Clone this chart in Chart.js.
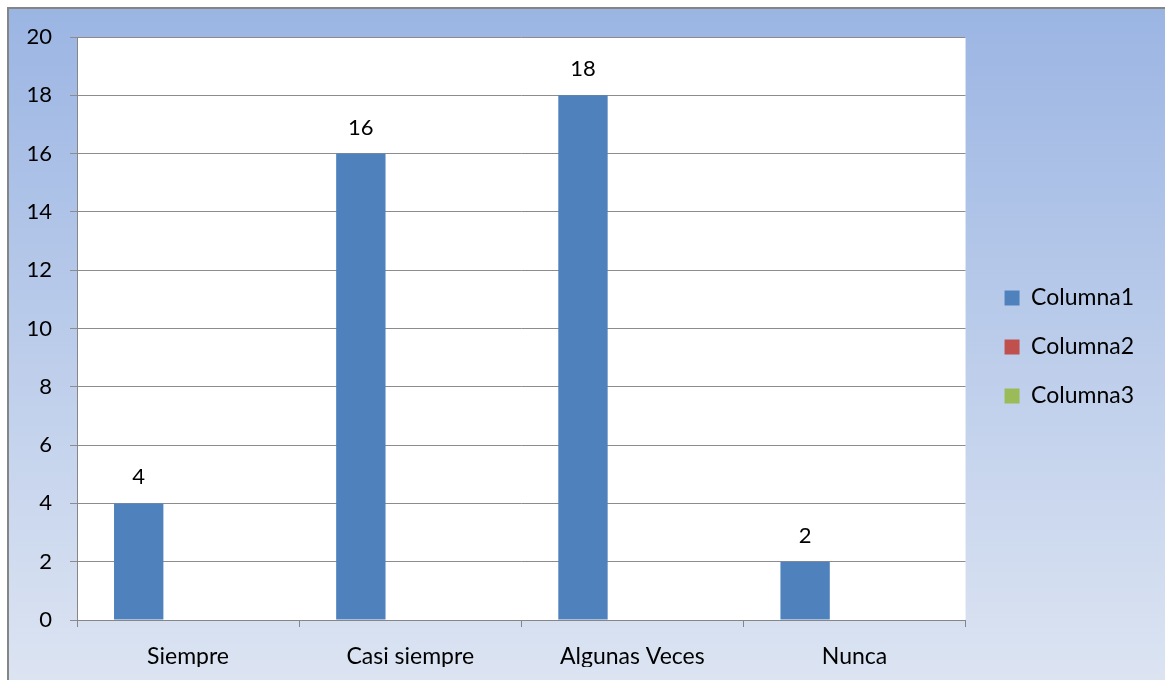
<!DOCTYPE html>
<html>
<head>
<meta charset="utf-8">
<title>Chart</title>
<script src="https://cdn.jsdelivr.net/npm/chart.js@4/dist/chart.umd.min.js"></script>
<style>
  html, body { margin: 0; padding: 0; background: #fff; }
  canvas { display: block; }
</style>
</head>
<body>
<canvas id="chart" width="1165" height="680"></canvas>
<script>
const categories = ['Siempre', 'Casi siempre', 'Algunas Veces', 'Nunca'];
const columna1 = [4, 16, 18, 2];
const columna2 = [null, null, null, null];
const columna3 = [null, null, null, null];
const seriesNames = ['Columna1', 'Columna2', 'Columna3'];

const FONT = 'Lato';
const AXIS_GREY = '#868686';

// gradient backdrop + white plot area
const backdrop = {
  id: 'backdrop',
  beforeDraw(chart) {
    const { ctx, width, height, chartArea: a } = chart;
    ctx.save();
    const g = ctx.createLinearGradient(0, 8, 0, height);
    g.addColorStop(0, '#9bb5e3');
    g.addColorStop(1, '#dce4f2');
    ctx.fillStyle = g;
    ctx.fillRect(8, 8, width - 8, height - 8);
    ctx.strokeStyle = '#858585';
    ctx.lineWidth = 2;
    ctx.beginPath();
    ctx.moveTo(8, height);
    ctx.lineTo(8, 8);
    ctx.lineTo(width, 8);
    ctx.stroke();
    ctx.fillStyle = '#ffffff';
    ctx.fillRect(a.left, a.top, a.right - a.left, a.bottom - a.top);
    ctx.restore();
  }
};

// value labels above the Columna1 bars
const valueLabels = {
  id: 'valueLabels',
  afterDatasetsDraw(chart) {
    const { ctx } = chart;
    const meta = chart.getDatasetMeta(0);
    ctx.save();
    ctx.font = '22px ' + FONT;
    ctx.fillStyle = '#000';
    ctx.textAlign = 'center';
    ctx.textBaseline = 'middle';
    meta.data.forEach((bar, i) => {
      const v = columna1[i];
      if (v == null) return;
      ctx.fillText(String(v), bar.x, bar.y - 26);
    });
    ctx.restore();
  }
};

const ctx = document.getElementById('chart').getContext('2d');
new Chart(ctx, {
  type: 'bar',
  data: {
    labels: categories,
    datasets: [
      { label: seriesNames[0], data: columna1, backgroundColor: '#4f81bd' },
      { label: seriesNames[1], data: columna2, backgroundColor: '#c0504d' },
      { label: seriesNames[2], data: columna3, backgroundColor: '#9bbb59' }
    ]
  },
  options: {
    responsive: false,
    animation: false,
    categoryPercentage: 2 / 3,
    barPercentage: 1,
    layout: { padding: { top: 27, bottom: 13, left: 8, right: 21 } },
    plugins: {
      // empty title only reserves the strip above the plot
      title: { display: true, text: '', font: { size: 10, lineHeight: 1 }, padding: 0 },
      tooltip: { enabled: false },
      legend: {
        position: 'right',
        labels: {
          boxWidth: 15,
          boxHeight: 15,
          padding: 26,
          color: '#000',
          font: { family: FONT, size: 23 }
        }
      }
    },
    scales: {
      x: {
        grid: { offset: true, drawOnChartArea: false, drawTicks: true, tickLength: 7, color: AXIS_GREY },
        border: { color: AXIS_GREY, width: 1 },
        ticks: { color: '#000', padding: 16, font: { family: FONT, size: 23 }, maxRotation: 0 },
        afterFit: s => { s.height = 47; }
      },
      y: {
        min: 0,
        max: 20,
        ticks: { stepSize: 2, color: '#000', padding: 18, font: { family: FONT, size: 22 } },
        grid: { color: '#8c8c8c', tickLength: 7 },
        border: { color: AXIS_GREY, width: 1 },
        afterFit: s => { s.width = 69; }
      },
      gap: {
        type: 'linear',
        position: 'right',
        display: true,
        grid: { display: false },
        border: { display: false },
        ticks: { display: false },
        afterFit: s => { s.width = 13; }
      }
    }
  },
  plugins: [backdrop, valueLabels]
});
</script>
</body>
</html>
